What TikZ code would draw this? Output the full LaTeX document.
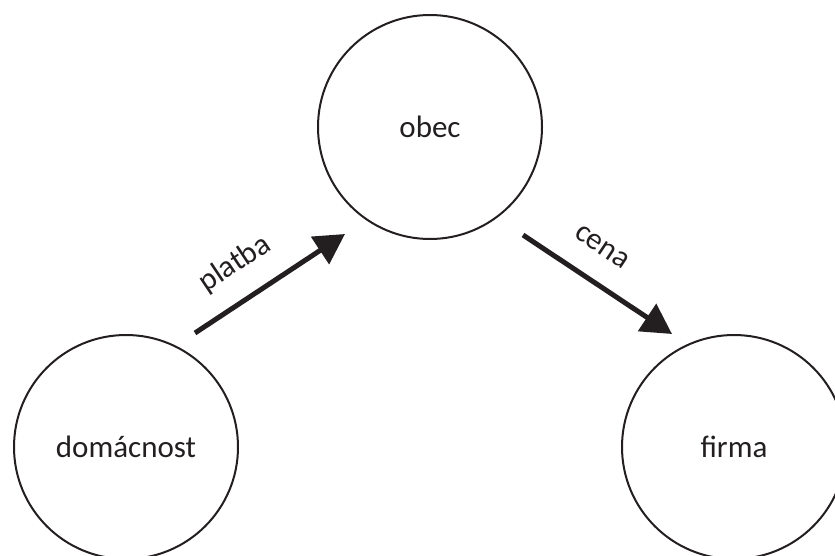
\documentclass[tikz,border=0pt]{standalone}
\usepackage{fontspec}
\setmainfont{Carlito}
\usetikzlibrary{arrows.meta}
\definecolor{ink}{HTML}{231F20}
\begin{document}
\begin{tikzpicture}[x=1pt,y=-1pt,
  agent/.style={circle,draw=ink,line width=2pt,minimum size=224pt,inner sep=0pt,text=ink,font=\fontsize{31}{36}\selectfont},
  flow/.style={draw=ink,line width=5pt,-{Triangle[length=30pt,width=32pt]}},
  lbl/.style={text=ink,font=\fontsize{31}{36}\selectfont}]
\useasboundingbox (0,0) rectangle (835,556);
\clip (0,0) rectangle (835,556);
\node[agent] (obec) at (430,127) {obec};
\node[agent] (dom) at (126,447) {domácnost};
\node[agent] (firma) at (734,447) {firma};
\coordinate (p1) at (195,333);
\coordinate (p2) at (345,234);
\coordinate (c1) at (523,235);
\coordinate (c2) at (672,334);
\draw[flow] (p1) -- (p2);
\draw[flow] (c1) -- (c2);
\node[lbl,rotate=33.8] (platba) at (235,264) {platba};
\node[lbl,rotate=-33.8] (cena) at (602,247) {cena};
\end{tikzpicture}
\end{document}
